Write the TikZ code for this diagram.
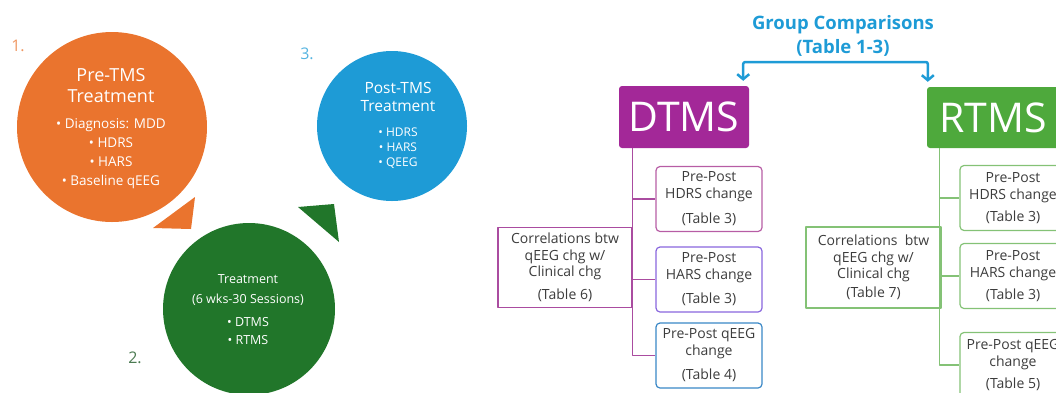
\documentclass[tikz,border=0pt]{standalone}
\usepackage{fontspec}
\setmainfont{Open Sans}
\usetikzlibrary{arrows.meta}

\definecolor{preorange}{RGB}{234,116,46}
\definecolor{txgreen}{RGB}{33,118,42}
\definecolor{postblue}{RGB}{30,155,214}
\definecolor{dpurple}{RGB}{163,40,152}
\definecolor{dline}{RGB}{170,76,160}
\definecolor{rgreen}{RGB}{78,169,60}
\definecolor{rline}{RGB}{132,194,118}
\definecolor{boxtext}{RGB}{60,60,60}

\tikzset{
  stage/.style={circle, inner sep=0pt},
  stagetext/.style={text=white, align=center, inner sep=0pt},
  num/.style={font=\fontsize{16}{18}\selectfont, inner sep=0pt},
  tmsbox/.style={rounded corners=3pt, text=white, inner sep=0pt,
    font=\fontsize{41}{42}\selectfont},
  resbox/.style={draw, rounded corners=4pt, line width=1.2pt, inner sep=0pt,
    minimum width=106pt, minimum height=65pt, align=center, text=boxtext,
    font=\fontsize{14}{17}\selectfont},
  corrbox/.style={draw, line width=1.2pt, inner sep=0pt, minimum width=134pt,
    minimum height=80pt, align=center, text=boxtext,
    font=\fontsize{14}{16.5}\selectfont},
  cmparrow/.style={postblue, line width=2.5pt, rounded corners=2pt,
    {Straight Barb[length=5pt,width=12pt]}-{Straight Barb[length=5pt,width=12pt]}},
}

\begin{document}
\begin{tikzpicture}[x=1pt, y=-1pt, line join=round]
\useasboundingbox (0,0) rectangle (1056,392);
\clip (0,0) rectangle (1056,392);

% the three stages
\node[stage, fill=preorange, minimum size=190pt] (pre) at (112,127) {};
\node[stagetext, font=\fontsize{13.5}{19}\selectfont] (pretext) at (111,129)
  {{\fontsize{18}{21}\selectfont Pre-TMS}\\[2pt]
   {\fontsize{18}{21}\selectfont Treatment}\\[7pt]
   \textbullet{} Diagnosis: MDD\\ \textbullet{} HDRS\\ \textbullet{} HARS\\
   \textbullet{} Baseline qEEG};
\node[num, text=preorange!75] (n1) at (18,46) {1.};
\fill[preorange] (153,228) -- (195,197) -- (191,229) -- cycle;

\node[stage, fill=txgreen, minimum size=172pt] (treat) at (249,309) {};
\node[stagetext, font=\fontsize{12.5}{18}\selectfont] (treattext) at (248,310)
  {Treatment\\[2pt] (6 wks-30 Sessions)\\[5pt] \textbullet{} DTMS\\ \textbullet{} RTMS};
\node[num, text=txgreen!55!gray] (n2) at (135,358) {2.};
\fill[txgreen] (298,207) -- (334,204) -- (339,242) -- cycle;

\node[stage, fill=postblue, minimum size=150pt] (post) at (392,126) {};
\node[stagetext, font=\fontsize{12}{15}\selectfont] (posttext) at (398,125)
  {{\fontsize{15.5}{18}\selectfont Post-TMS}\\[3pt]
   {\fontsize{15.5}{18}\selectfont Treatment}\\[10pt]
   \textbullet{} HDRS\\ \textbullet{} HARS\\ \textbullet{} QEEG};
\node[num, text=postblue!75] (n3) at (307,54) {3.};

% group comparisons
\node[text=postblue, align=center, inner sep=0pt,
  font=\bfseries\fontsize{18.5}{24}\selectfont] (grp) at (843,36)
  {Group Comparisons\\(Table 1-3)};
\node[tmsbox, fill=dpurple, minimum width=130pt, minimum height=62pt] (dtms) at (684,117) {DTMS};
\node[tmsbox, fill=rgreen, minimum width=132pt, minimum height=61pt] (rtms) at (993,117.5) {RTMS};
\coordinate (cmpbar) at (835,62);
\draw[cmparrow] ([xshift=-6pt,yshift=5pt]dtms.north east) |- (cmpbar)
  -| ([xshift=1pt,yshift=5pt]rtms.north west);

% DTMS branch
\node[resbox, draw=dline!85!pink] (dhdrs) at (709,199) {Pre-Post\\HDRS change\\[8pt](Table 3)};
\node[resbox, draw=violet!45!blue!60] (dhars) at (709,279.5) {Pre-Post\\HARS change\\[7pt](Table 3)};
\node[resbox, draw=blue!45!cyan!55!gray] (dqeeg) at (709,355.5) {Pre-Post qEEG\\change\\[7pt](Table 4)};
\node[corrbox, draw=dline] (dcorr) at (565,267.5)
  {Correlations btw\\qEEG chg w/\\Clinical chg\\[6.5pt](Table 6)};
\coordinate (dtrunk) at ([xshift=14pt]dtms.south west);
\draw[dline, line width=1.2pt] (dtrunk) |- (dhdrs.west);
\draw[dline, line width=1.2pt] (dtrunk) |- (dhars.west);
\draw[dline, line width=1.2pt] (dtrunk) |- (dqeeg.west);

% RTMS branch
\node[resbox, draw=rline] (rhdrs) at (1013,198) {Pre-Post\\HDRS change\\[5pt](Table 3)};
\node[resbox, draw=rline] (rhars) at (1013,276) {Pre-Post\\HARS change\\[5pt](Table 3)};
\node[resbox, draw=rline] (rqeeg) at (1013,365) {Pre-Post qEEG\\change\\[5pt](Table 5)};
\node[corrbox, draw=rline, minimum width=135pt, minimum height=81pt] (rcorr) at (873.5,267.5)
  {Correlations\ \ btw\\qEEG chg w/\\Clinical chg\\[2pt](Table 7)};
\coordinate (rtrunk) at ([xshift=13pt]rtms.south west);
\draw[rline, line width=1.2pt] (rtrunk) |- (rhdrs.west);
\draw[rline, line width=1.2pt] (rtrunk) |- (rhars.west);
\draw[rline, line width=1.2pt] (rtrunk) |- (rqeeg.west);
\end{tikzpicture}
\end{document}
